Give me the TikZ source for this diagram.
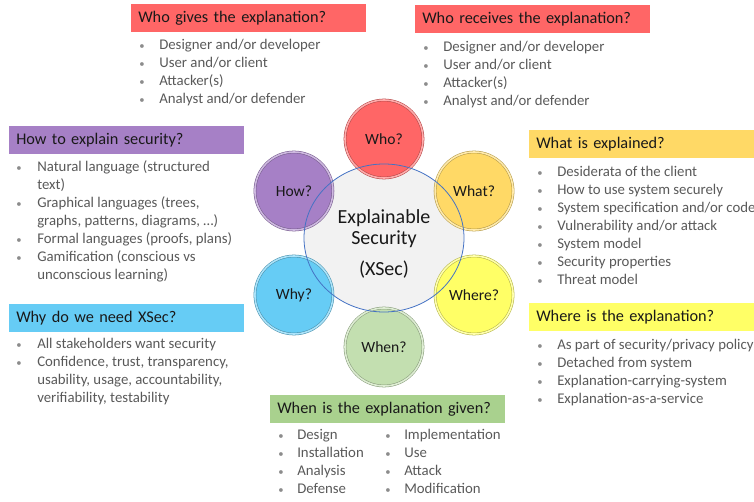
\documentclass[tikz,border=0pt]{standalone}
\usepackage{fontspec}
\setmainfont{Carlito}
\usetikzlibrary{shapes.geometric}
\definecolor{xred}{HTML}{FF6666}
\definecolor{xgold}{HTML}{FFD966}
\definecolor{xyel}{HTML}{FFFF66}
\definecolor{xgrn}{HTML}{A9D18E}
\definecolor{xcyan}{HTML}{66CCF5}
\definecolor{xpurp}{HTML}{A680C6}
\definecolor{xring}{HTML}{4472C4}
\definecolor{xtext}{HTML}{595959}
\newcommand\bu{\leavevmode{\fontsize{8}{10}\selectfont\textcolor{black!45}{\raisebox{0.6pt}{\textbullet}}}}

\begin{document}
\begin{tikzpicture}[x=0.75pt,y=-0.75pt,
  head/.style={anchor=north west,fill=#1,inner xsep=5.25pt,inner ysep=0pt,text width=165.75pt,minimum height=21pt,align=left,font=\fontsize{12.2}{14}\selectfont,text=black!90},
  items/.style={anchor=north west,inner sep=0pt,text=xtext,font=\fontsize{11.1}{13.5}\selectfont},
  bub/.style={circle,minimum size=58.5pt,fill=#1,draw=#1!70!black,double=#1!55!white,double distance=1.2pt,line width=0.4pt,font=\fontsize{11.7}{13}\selectfont,text=black!90}]
\useasboundingbox (0,0) rectangle (754,502);

\node[head=xred] (whoGives) at (131,4) {Who gives the explanation?};
\node[items] (whoGivesList) at (139,37) {\begin{tabular}{@{}p{15pt}@{}l@{}}
  \bu & Designer and/or developer\\ \bu & User and/or client\\ \bu & Attacker(s)\\ \bu & Analyst and/or defender
\end{tabular}};

\node[head=xred] (whoGets) at (415,5) {Who receives the explanation?};
\node[items] (whoGetsList) at (423,39) {\begin{tabular}{@{}p{15pt}@{}l@{}}
  \bu & Designer and/or developer\\ \bu & User and/or client\\ \bu & Attacker(s)\\ \bu & Analyst and/or defender
\end{tabular}};

\node[head=xpurp] (how) at (9,126) {How to explain security?};
\node[items] (howList) at (16,159) {\begin{tabular}{@{}p{15.75pt}@{}l@{}}
  \bu & Natural language (structured\\ & text)\\
  \bu & Graphical languages (trees,\\ & graphs, patterns, diagrams, \dots)\\
  \bu & Formal languages (proofs, plans)\\
  \bu & Gamification (conscious vs\\ & unconscious learning)
\end{tabular}};

\node[head=xcyan] (why) at (9,304) {Why do we need XSec?};
\node[items] (whyList) at (16,336) {\begin{tabular}{@{}p{15.75pt}@{}l@{}}
  \bu & All stakeholders want security\\
  \bu & Confidence, trust, transparency,\\ & usability, usage, accountability,\\ & verifiability, testability
\end{tabular}};

\node[head=xgold] (what) at (529,130) {What is explained?};
\node[items] (whatList) at (537,164) {\begin{tabular}{@{}p{15pt}@{}l@{}}
  \bu & Desiderata of the client\\ \bu & How to use system securely\\
  \bu & System specification and/or code\\ \bu & Vulnerability and/or attack\\
  \bu & System model\\ \bu & Security properties\\ \bu & Threat model
\end{tabular}};

\node[head=xyel] (where) at (529,303) {Where is the explanation?};
\node[items] (whereList) at (537,337) {\begin{tabular}{@{}p{15pt}@{}l@{}}
  \bu & As part of security/privacy policy\\ \bu & Detached from system\\
  \bu & Explanation-carrying-system\\ \bu & Explanation-as-a-service
\end{tabular}};

\node[head=xgrn] (when) at (270,395) {When is the explanation given?};
\node[items] (whenList) at (278,427) {\begin{tabular}{@{}p{14.25pt}@{}p{66pt}@{}p{14.25pt}@{}l@{}}
  \bu & Design & \bu & Implementation\\ \bu & Installation & \bu & Use\\
  \bu & Analysis & \bu & Attack\\ \bu & Defense & \bu & Modification
\end{tabular}};

\node[ellipse,fill=black!5,minimum width=120pt,minimum height=111pt] (xsec) at (384,238) {};
\coordinate (hub) at (384,243);
\foreach \n/\a/\c in {Who/-90/xred,What/-30/xgold,Where/30/xyel,When/90/xgrn!70!white,Why/150/xcyan,How/210/xpurp}
  \node[bub=\c] (\n) at ([shift={(\a:104)}]hub) {\n?};
\draw[xring,line width=0.6pt] (xsec.center) ellipse [x radius=60pt,y radius=55.5pt];
\node[align=center,font=\fontsize{15}{15.75}\selectfont,text=black!90] (xsecLbl) at (384,244) {Explainable\\Security\\[8pt](XSec)};
\end{tikzpicture}
\end{document}
